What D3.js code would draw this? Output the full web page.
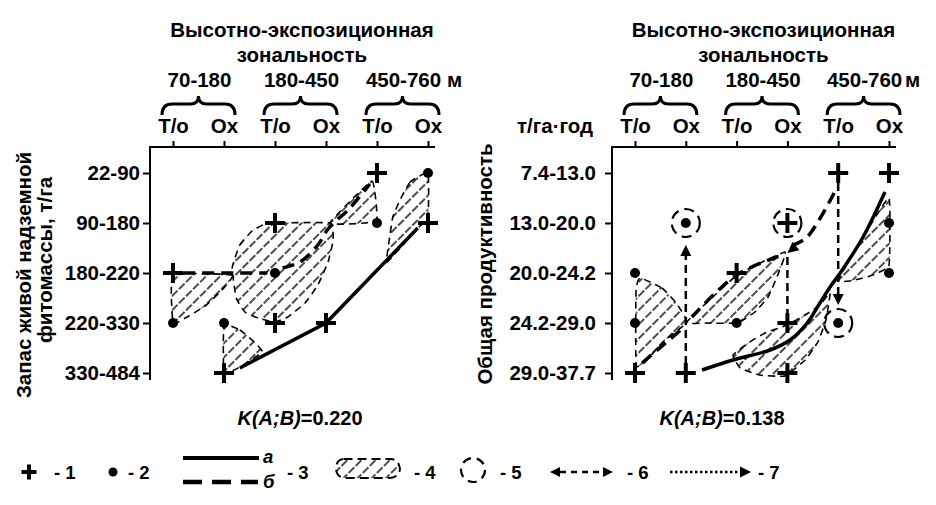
<!DOCTYPE html>
<html><head><meta charset="utf-8">
<script src="https://cdn.jsdelivr.net/npm/d3@7"></script>
<style>
body{margin:0;background:#fff}
svg text{font-family:"Liberation Sans",Arial,sans-serif;font-weight:bold;fill:#000}
</style>
</head><body>
<svg id="c" width="936" height="505"></svg>
<script>
// ---------- data ----------
const groups = ["70-180", "180-450", "450-760"];
const unitM = "м";
const columns = ["Т/о", "Ох", "Т/о", "Ох", "Т/о", "Ох"];
const titleLines = ["Высотно-экспозиционная", "зональность"];
const levelsA = ["22-90", "90-180", "180-220", "220-330", "330-484"];
const levelsB = ["7.4-13.0", "13.0-20.0", "20.0-24.2", "24.2-29.0", "29.0-37.7"];
const yTitleA = ["Запас живой надземной", "фитомассы, т/га"];
const yTitleB = ["Общая продуктивность"];
const unitB = "т/га·год";
const kLabel = "K(A;B)";
const kValues = ["=0.220", "=0.138"];
const legendLabels = ["- 1", "- 2", "- 3", "- 4", "- 5", "- 6", "- 7"];
const legendSub = ["а", "б"];

// panel A (phytomass): [column index, level index]
const crossesA = [[0,2],[1,4],[2,1],[2,3],[3,3],[4,0],[5,1]];
const dotsA = [[0,3],[1,3],[2,2],[4,1],[5,0]];
const solidA = [[1.31,3.9],[3,3],[4.8,1.1]];
const dashedA = [
  [[0.2,2],[1.85,2]],
  [[2.15,1.9],[2.49,1.78],[2.84,1.44],[3.04,1.12],[3.47,0.7],[3.86,0.22]]
];
const hatchA = [
  [[0,2.04],[1.16,2.04],[0.96,2.34],[0.63,2.66],[0.24,2.9],[0,3.0]],
  [[1.16,1.9],[1.31,1.44],[1.55,1.16],[1.8,1.02],[2.0,1.0],[3.08,1.0],[3.14,1.34],[3.04,1.78],[2.84,2.24],[2.59,2.6],[2.25,2.88],[2.0,2.98],[1.67,2.9],[1.41,2.78],[1.24,2.5]],
  [[3.08,1.0],[3.9,0.16],[4.0,0.9],[3.76,1.0]],
  [[1.0,3.04],[1.31,3.14],[1.55,3.34],[1.75,3.58],[1.31,3.88],[1.0,4.0]],
  [[5,0],[4.65,0.18],[4.45,0.54],[4.31,0.88],[4.24,1.34],[4.2,1.78],[4.8,1.1],[5,0.9]]
];

// panel B (productivity)
const crossesB = [[0,4],[1,4],[2,2],[3,1],[3,3],[3,4],[4,0],[5,0]];
const dotsB = [[0,2],[0,3],[1,1],[2,3],[4,3],[5,1],[5,2]];
const circledB = [[1,1],[3,1],[4,3]];
const solidB = [[1.32,3.94],[1.93,3.74],[2.66,3.54],[3.05,3.34],[3.39,3.0],[3.64,2.6],[3.84,2.28],[4.04,2.0],[4.49,1.28],[4.92,0.38]];
const dashedB = [
  [[0.14,3.8],[0.9,3.14]],
  [[1.12,2.88],[2.0,2.04],[2.85,1.66]]
];
const dashedArrowB = [[[3.92,0.4],[3.39,1.28],[3.0,1.6]]];
const vArrowsB = [[[1,3.82],[1,1.44]], [[4,0.2],[4,2.64]]];
const vGuideB = [[[3,1.68],[3,2.82]]];
const hatchB = [
  [[0.1,2.1],[0.53,2.3],[0.81,2.6],[1.02,2.98],[0.53,3.4],[0.2,3.78],[0.02,3.84],[0.02,2.34]],
  [[1.02,2.98],[2.01,2.04],[2.95,1.58],[2.81,2.04],[2.62,2.48],[2.36,2.78],[2.01,3.0],[1.38,3.0]],
  [[1.93,3.64],[2.26,3.38],[2.56,3.2],[2.99,3.04],[3.35,2.84],[3.64,2.64],[3.84,2.4],[3.76,2.94],[3.6,3.38],[3.35,3.74],[2.95,4.06],[2.46,4.04],[2.07,3.9]],
  [[4.0,2.14],[4.49,1.28],[5.0,0.5],[5.0,1.84],[4.63,2.06],[4.23,2.16]]
];

// ---------- drawing ----------
const svg = d3.select("#c");
const FS = 20.5;
const defs = svg.append("defs");
const pat = defs.append("pattern").attr("id","hatch").attr("patternUnits","userSpaceOnUse")
  .attr("width",10).attr("height",10).attr("patternTransform","rotate(45)");
pat.append("line").attr("x1",1).attr("y1",0).attr("x2",1).attr("y2",10)
  .attr("stroke","#000").attr("stroke-width",1.4).attr("stroke-dasharray","8 2");

function cross(g, cx, cy, h, w) {
  g.append("path").attr("d",`M${cx-h},${cy}H${cx+h}M${cx},${cy-h}V${cy+h}`)
    .attr("stroke","#000").attr("stroke-width",w).attr("fill","none");
}
function head(g, p, q, size) {
  const a = Math.atan2(q[1]-p[1], q[0]-p[0]);
  const w = size*0.5;
  const bx = q[0]-size*Math.cos(a), by = q[1]-size*Math.sin(a);
  const pts = [q, [bx + w*Math.sin(a), by - w*Math.cos(a)], [bx - w*Math.sin(a), by + w*Math.cos(a)]];
  g.append("path").attr("d","M"+pts.map(p=>p.join(",")).join("L")+"Z").attr("fill","#000");
}

function panel(cfg) {
  const x = d3.scaleLinear().domain([0,5]).range(cfg.xr);
  const y = d3.scaleLinear().domain([0,4]).range([173,373]);
  const g = svg.append("g");
  const axisX = cfg.xr[0] - 23;
  const axTop = 147, axBot = 380;

  // hatched regions
  const closed = d3.line().x(d=>x(d[0])).y(d=>y(d[1])).curve(d3.curveCardinalClosed.tension(0.65));
  cfg.hatch.forEach(r => {
    g.append("path").attr("d", closed(r)).attr("fill","url(#hatch)")
      .attr("stroke","#000").attr("stroke-width",1.6).attr("stroke-dasharray","7 5");
  });

  // axes
  const at = g.append("g").attr("transform",`translate(0,${axTop})`)
    .call(d3.axisTop(x).tickValues(d3.range(6)).tickFormat(i=>columns[i]).tickSizeInner(6).tickSizeOuter(0).tickPadding(8));
  at.select(".domain").remove();
  at.selectAll("line").attr("stroke","#000").attr("stroke-width",2);
  at.selectAll("text").attr("font-size",FS).attr("font-family",null);
  const al = g.append("g").attr("transform",`translate(${axisX},0)`)
    .call(d3.axisLeft(y).tickValues(d3.range(5)).tickFormat(i=>cfg.levels[i]).tickSizeInner(7).tickSizeOuter(0).tickPadding(cfg.pad));
  al.select(".domain").remove();
  al.selectAll("line").attr("stroke","#000").attr("stroke-width",2);
  al.selectAll("text").attr("font-size",FS).attr("font-family",null);
  g.append("path").attr("d",`M${axisX},${axBot}V${axTop}H${x(5)+7}`)
    .attr("fill","none").attr("stroke","#000").attr("stroke-width",2);

  // title
  const mid = (cfg.xr[0]+cfg.xr[1])/2 + 1.5;
  titleLines.forEach((t,i)=> g.append("text").attr("x",mid).attr("y",37+25*i)
    .attr("text-anchor","middle").attr("font-size",FS).text(t));
  // groups + braces
  groups.forEach((t,i)=>{
    const xl = x(2*i)-11, xr = x(2*i+1)+11, m = (x(2*i)+x(2*i+1))/2;
    g.append("text").attr("x",m+1).attr("y",87).attr("text-anchor","middle").attr("font-size",FS).text(t);
    g.append("path").attr("d",
      `M${xl},115Q${xl},104 ${xl+10},104L${m-8},104Q${m},104 ${m},96Q${m},104 ${m+8},104L${xr-10},104Q${xr},104 ${xr},115`)
      .attr("fill","none").attr("stroke","#000").attr("stroke-width",3);
  });
  g.append("text").attr("x",x(5)+cfg.mOff).attr("y",87).attr("font-size",FS).text(unitM);
  if (cfg.unit) g.append("text").attr("x",axisX-19).attr("y",133).attr("text-anchor","end").attr("font-size",FS).text(cfg.unit);

  // y title
  cfg.yTitle.forEach((t,i)=>{
    const [bx, cy] = cfg.yTitlePos[i];
    g.append("text").attr("transform",`translate(${bx},${cy}) rotate(-90)`)
      .attr("text-anchor","middle").attr("font-size",FS).text(t);
  });

  // K
  const kt = g.append("text").attr("x",cfg.kx).attr("y",425).attr("text-anchor","middle").attr("font-size",20);
  kt.append("tspan").attr("font-style","italic").text(kLabel);
  kt.append("tspan").text(cfg.k);

  // lines
  const lin = d3.line().x(d=>x(d[0])).y(d=>y(d[1]));
  g.append("path").attr("d", lin.curve(cfg.solidCurve)(cfg.solid)).attr("fill","none")
    .attr("stroke","#000").attr("stroke-width",3.5);
  const lin2 = d3.line().x(d=>x(d[0])).y(d=>y(d[1])).curve(d3.curveCatmullRom);
  cfg.dashed.forEach(l => g.append("path").attr("d", lin2(l)).attr("fill","none")
    .attr("stroke","#000").attr("stroke-width",3.5).attr("stroke-dasharray","12 7"));
  (cfg.dashedArrow||[]).forEach(l => {
    g.append("path").attr("d", lin2(l.slice(0,-1).concat([[l[l.length-1][0]+0.12,l[l.length-1][1]-0.16]]))).attr("fill","none")
      .attr("stroke","#000").attr("stroke-width",3.5).attr("stroke-dasharray","12 7");
    const a = l[l.length-2], b = l[l.length-1];
    head(g, [x(a[0]),y(a[1])], [x(b[0]),y(b[1])], 11);
  });
  (cfg.vArrows||[]).forEach(l => {
    const a = l[0], b = l[1];
    const dir = Math.sign(y(b[1])-y(a[1]));
    g.append("line").attr("x1",x(a[0])).attr("y1",y(a[1])).attr("x2",x(b[0])).attr("y2",y(b[1])-dir*10)
      .attr("stroke","#000").attr("stroke-width",2.5).attr("stroke-dasharray","8 5");
    head(g, [x(a[0]),y(a[1])], [x(b[0]),y(b[1])], 11);
  });
  (cfg.vGuide||[]).forEach(l => {
    g.append("line").attr("x1",x(l[0][0])).attr("y1",y(l[0][1])).attr("x2",x(l[1][0])).attr("y2",y(l[1][1]))
      .attr("stroke","#000").attr("stroke-width",2.5).attr("stroke-dasharray","8 5");
  });
  (cfg.circled||[]).forEach(p => g.append("circle").attr("cx",x(p[0])).attr("cy",y(p[1])).attr("r",14)
    .attr("fill","none").attr("stroke","#000").attr("stroke-width",2.2).attr("stroke-dasharray","10 6"));

  // markers
  cfg.crosses.forEach(p => cross(g, x(p[0]), y(p[1]), 10, 4));
  cfg.dots.forEach(p => g.append("circle").attr("cx",x(p[0])).attr("cy",y(p[1])).attr("r",5).attr("fill","#000"));
}

panel({xr:[173,428], levels:levelsA, pad:3, hatch:hatchA, crosses:crossesA, dots:dotsA,
  solid:solidA, solidCurve:d3.curveLinear, dashed:dashedA, mOff:19,
  yTitle:yTitleA, yTitlePos:[[31,275],[52,260]], k:kValues[0], kx:300});
panel({xr:[635,889], levels:levelsB, pad:9, hatch:hatchB, crosses:crossesB, dots:dotsB,
  solid:solidB, solidCurve:d3.curveCatmullRom, dashed:dashedB, dashedArrow:dashedArrowB,
  vArrows:vArrowsB, vGuide:vGuideB, circled:circledB, mOff:16, unit:unitB,
  yTitle:yTitleB, yTitlePos:[[492,264]], k:kValues[1], kx:722});

// ---------- legend ----------
const lg = svg.append("g");
const LY = 472, LF = 18.5;
const lt = (x, t) => lg.append("text").attr("x",x).attr("y",LY+7).attr("font-size",LF).text(t);
cross(lg, 29, LY, 7.5, 4); lt(54, legendLabels[0]);
lg.append("circle").attr("cx",113).attr("cy",LY).attr("r",4.5).attr("fill","#000"); lt(128, legendLabels[1]);
lg.append("line").attr("x1",183).attr("x2",259).attr("y1",458).attr("y2",458).attr("stroke","#000").attr("stroke-width",4);
lg.append("line").attr("x1",183).attr("x2",258).attr("y1",482).attr("y2",482).attr("stroke","#000").attr("stroke-width",4.5).attr("stroke-dasharray","19 10");
lg.append("text").attr("x",263).attr("y",463).attr("font-size",LF).attr("font-style","italic").text(legendSub[0]);
lg.append("text").attr("x",263).attr("y",488).attr("font-size",LF).attr("font-style","italic").text(legendSub[1]);
lt(287, legendLabels[2]);
lg.append("path").attr("d","M343,459 Q336,460 336,469 Q337,478 346,478 L390,478 Q399,477 400,469 Q399,459 390,459 Z")
  .attr("fill","url(#hatch)").attr("stroke","#000").attr("stroke-width",2).attr("stroke-dasharray","9 5");
lt(414, legendLabels[3]);
lg.append("circle").attr("cx",473).attr("cy",470).attr("r",12).attr("fill","none").attr("stroke","#000").attr("stroke-width",2.2).attr("stroke-dasharray","9 6");
lt(500, legendLabels[4]);
lg.append("line").attr("x1",560).attr("x2",603).attr("y1",LY).attr("y2",LY).attr("stroke","#000").attr("stroke-width",2.5).attr("stroke-dasharray","6 5");
head(lg,[600,LY],[550,LY],10); head(lg,[560,LY],[613,LY],10);
lt(627, legendLabels[5]);
lg.append("line").attr("x1",670).attr("x2",740).attr("y1",LY).attr("y2",LY).attr("stroke","#000").attr("stroke-width",2.5).attr("stroke-dasharray","2.5 2.5");
head(lg,[700,LY],[751,LY],11);
lt(758, legendLabels[6]);
</script>
</body></html>
